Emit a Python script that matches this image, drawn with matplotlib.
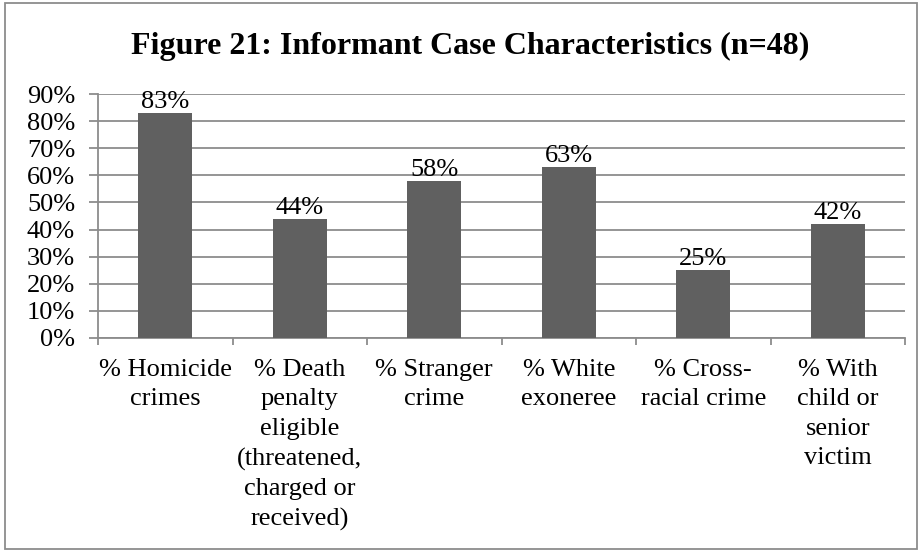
import numpy as np
import matplotlib.pyplot as plt
from matplotlib.patches import Rectangle
from matplotlib.ticker import PercentFormatter, FixedLocator, NullFormatter

categories = ["% Homicide\ncrimes",
              "% Death\npenalty\neligible\n(threatened,\ncharged or\nreceived)",
              "% Stranger\ncrime",
              "% White\nexoneree",
              "% Cross-\nracial crime",
              "% With\nchild or\nsenior\nvictim"]
values = [0.83, 0.44, 0.58, 0.63, 0.25, 0.42]
value_labels = ["83%", "44%", "58%", "63%", "25%", "42%"]
yticks = np.arange(0, 1.0, 0.1)

plt.rcParams['font.family'] = ['Liberation Serif', 'DejaVu Serif']
GRAY = "#8c8c8c"
FS = 19

fig = plt.figure(figsize=(9.22, 5.52), dpi=100)
ax = fig.add_axes([0.1063, 0.3877, 0.8753, 0.4420])

x = np.arange(len(categories))
ax.bar(x, values, width=0.4, color="#606060", zorder=3)
for xi, v, lab in zip(x, values, value_labels):
    ax.text(xi, v, lab, ha="center", va="bottom", fontsize=FS)

ax.set_xlim(-0.5, len(categories) - 0.5)
ax.set_ylim(0, 0.9)
ax.set_yticks(yticks)
ax.yaxis.set_major_formatter(PercentFormatter(1.0, decimals=0))
ax.grid(axis="y", color=GRAY, linewidth=1.3, zorder=0)
ax.tick_params(axis="y", length=6.5, width=1.3, color=GRAY, labelsize=FS, pad=10)

# category labels in the middle, ticks on the boundaries
ax.set_xticks(x)
ax.set_xticklabels(categories, fontsize=FS, linespacing=1.44, va="top")
ax.tick_params(axis="x", length=0, pad=15)
ax.xaxis.set_minor_locator(FixedLocator(np.arange(-0.5, len(categories), 1.0)))
ax.xaxis.set_minor_formatter(NullFormatter())
ax.tick_params(axis="x", which="minor", length=5, color=GRAY, width=1.3)

for s in ["top", "right"]:
    ax.spines[s].set_visible(False)
for s in ["left", "bottom"]:
    ax.spines[s].set_color(GRAY)
    ax.spines[s].set_linewidth(1.3)

fig.text(0.51, 0.903, "Figure 21: Informant Case Characteristics (n=48)",
         ha="center", va="baseline", fontsize=23, fontweight="bold")

fig.patches.append(Rectangle((5 / 922, 3 / 552), 912 / 922, 546 / 552,
                             transform=fig.transFigure, fill=False,
                             edgecolor=GRAY, linewidth=1.3))

fig.savefig("out.png", dpi=100)
